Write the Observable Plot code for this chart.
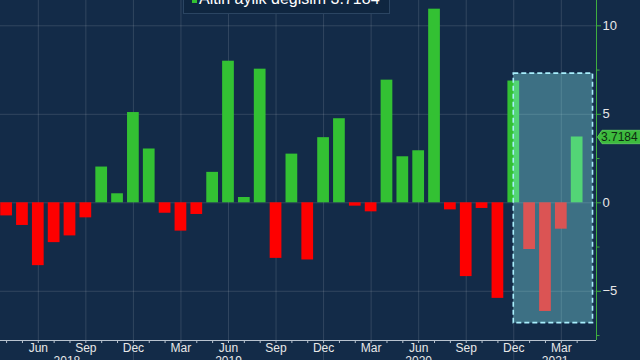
<!DOCTYPE html>
<html><head><meta charset="utf-8">
<script src="https://cdn.jsdelivr.net/npm/d3@7"></script>
<script src="https://cdn.jsdelivr.net/npm/@observablehq/plot@0.6"></script>
<style>
html,body{margin:0;padding:0;background:#132b48;overflow:hidden;}
#wrap{position:relative;width:640px;height:360px;}
#legend{position:absolute;left:183px;top:-12px;width:205px;height:24px;background:#0f2640;border:1px solid #2b4562;}
#legend .sw{position:absolute;left:8px;top:9px;width:5px;height:5px;background:#33c133;}
#legend .tx{position:absolute;left:15px;top:2px;font:16px "Liberation Sans",Arial,sans-serif;color:#fff;white-space:nowrap;line-height:16px;}
</style></head>
<body><div id="wrap"></div>
<script>
// ---- data ----
const months = ["2018-04","2018-05","2018-06","2018-07","2018-08","2018-09","2018-10","2018-11","2018-12",
 "2019-01","2019-02","2019-03","2019-04","2019-05","2019-06","2019-07","2019-08","2019-09","2019-10","2019-11","2019-12",
 "2020-01","2020-02","2020-03","2020-04","2020-05","2020-06","2020-07","2020-08","2020-09","2020-10","2020-11","2020-12",
 "2021-01","2021-02","2021-03","2021-04"];
const change = [-0.74,-1.28,-3.55,-2.25,-1.87,-0.85,2.02,0.51,5.1,
 3.04,-0.59,-1.6,-0.66,1.72,8.0,0.3,7.55,-3.14,2.75,-3.23,3.68,
 4.75,-0.19,-0.51,6.93,2.6,2.94,10.94,-0.4,-4.17,-0.32,-5.4,6.88,
 -2.64,-6.14,-1.49,3.7184];
const monthNames = ["Jan","Feb","Mar","Apr","May","Jun","Jul","Aug","Sep","Oct","Nov","Dec"];
const years = ["2018","2019","2020","2021"];
const highlightMonths = ["2020-12","2021-05"];
const highlightRange = [-6.8, 7.3];
const legendLabel = "Altin aylik degisim";
const yTicks = [-5,0,5,10];
const yMinorTicks = [-7.5,-2.5,2.5,7.5];

// ---- helpers ----
const [y0s, m0s] = months[0].split("-").map(Number);
const monthIndex = s => { const [y,m] = s.split("-").map(Number); return (y - y0s)*12 + (m - m0s); };
const data = months.map((m,i) => ({i: monthIndex(m), m: +m.split("-")[1], v: change[i]}));
const allIdx = data.map(d => d.i);
const quarterIdx = data.filter(d => d.m % 3 === 0).map(d => d.i);
const decIdx = data.filter(d => d.m === 12).map(d => d.i);
const X0 = -0.385, X1 = 37.22, Y0 = -7.78, Y1 = 11.43;
const yearCenters = years.map((y,k) => ((k === 0 ? X0 : decIdx[k-1]) + (k < decIdx.length ? decIdx[k] : X1)) / 2);
const yearMap = new Map(yearCenters.map((c,k) => [c, years[k]]));
const last = change[change.length-1];
const box = {x1: monthIndex(highlightMonths[0]), x2: monthIndex(highlightMonths[1]), y1: highlightRange[0], y2: highlightRange[1]};
const green = "#33c133", red = "#fe0000", grid = "#ffffff", axisGreen = "#3fae3f";
const tagSymbol = {draw(ctx){ ctx.moveTo(1,0); ctx.lineTo(5.5,-6.7); ctx.lineTo(46,-6.7); ctx.lineTo(46,6.7); ctx.lineTo(5.5,6.7); ctx.closePath(); }};

const chart = Plot.plot({
  width: 640, height: 360,
  marginLeft: 0, marginRight: 44, marginTop: 0, marginBottom: 20,
  x: {type: "linear", domain: [X0, X1]},
  y: {domain: [Y0, Y1]},
  style: {background: "transparent", color: "#e8e8e8", fontFamily: '"Liberation Sans", Arial, sans-serif', overflow: "visible"},
  marks: [
    Plot.gridY({ticks: yTicks, stroke: grid, strokeOpacity: 0.13}),
    Plot.gridX({ticks: quarterIdx, stroke: grid, strokeOpacity: 0.13}),
    Plot.axisX({ticks: decIdx, tickSize: 20, tickFormat: () => "", stroke: grid, strokeOpacity: 0.13, label: null}),
    Plot.rect(data, {x1: d => d.i - 0.37, x2: d => d.i + 0.37, y1: 0, y2: "v", fill: d => d.v >= 0 ? green : red}),
    Plot.rect([box], {x1: "x1", x2: "x2", y1: "y1", y2: "y2", fill: "rgb(150,255,255)", fillOpacity: 0.33,
      stroke: "#a8eefc", strokeWidth: 1.6, strokeDasharray: "5,3"}),
    Plot.ruleY([Y0], {stroke: "#b9c3cf"}),
    Plot.axisX({ticks: allIdx, tickSize: 3, tickFormat: () => "", stroke: "#b9c3cf", label: null}),
    Plot.axisX({ticks: quarterIdx, tickSize: 0, tickPadding: 3, tickFormat: i => monthNames[data.find(d => d.i === i).m - 1], fontSize: 12, fill: "#e8e8e8", label: null}),
    Plot.axisX({ticks: yearCenters, tickSize: 0, tickPadding: 16, tickFormat: d => yearMap.get(d), fontSize: 12, fill: "#e8e8e8", label: null}),
    Plot.ruleX([X1], {stroke: axisGreen}),
    Plot.axisY({anchor: "right", ticks: yTicks, tickSize: 4, tickPadding: 2, fontSize: 13, stroke: axisGreen, fill: "#e8e8e8", label: null}),
    Plot.axisY({anchor: "right", ticks: yMinorTicks, tickSize: 2.5, tickFormat: () => "", stroke: axisGreen, label: null}),
    Plot.dot([last], {y: d => d, frameAnchor: "right", symbol: tagSymbol, fill: "#3dbb3d", stroke: "#62d262", strokeWidth: 0.8}),
    Plot.text([last], {y: d => d, frameAnchor: "right", dx: 4.5, textAnchor: "start", text: d => d.toFixed(4), fill: "#0e2a12", fontSize: 12})
  ]
});
const wrap = document.getElementById("wrap");
wrap.appendChild(chart);
const lg = document.createElement("div");
lg.id = "legend";
lg.innerHTML = `<div class="sw"></div><div class="tx"></div>`;
lg.querySelector(".tx").textContent = `${legendLabel} ${last.toFixed(4)}`;
wrap.appendChild(lg);
</script>
</body></html>
